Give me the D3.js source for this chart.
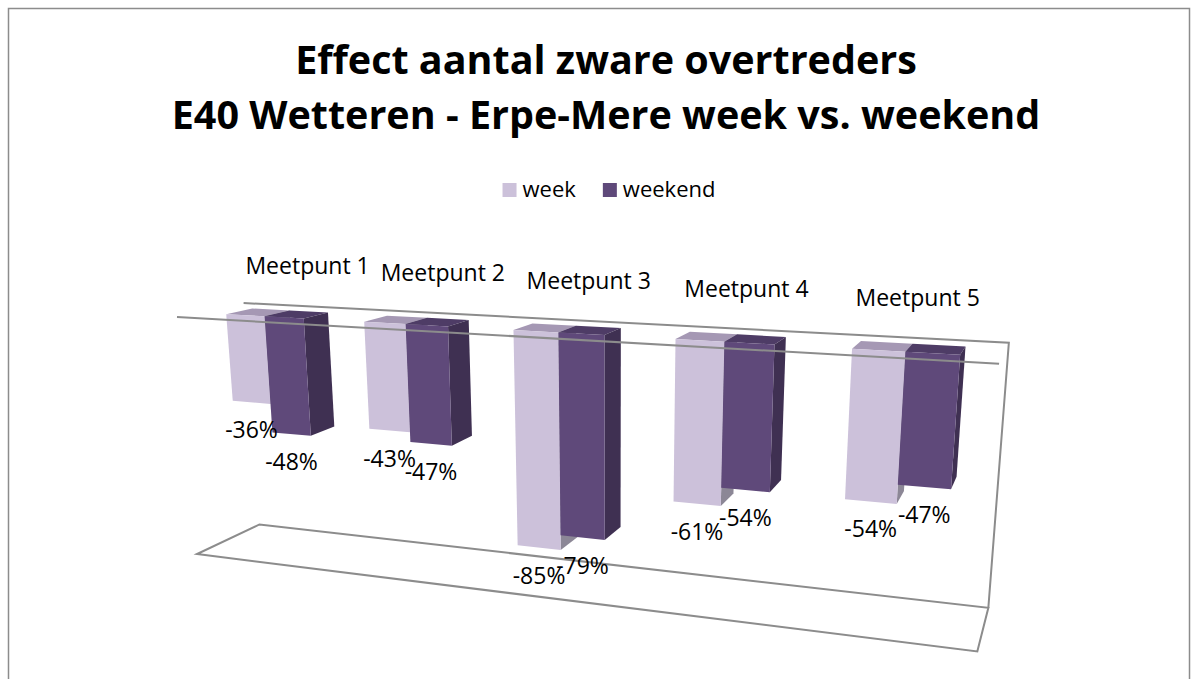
<!DOCTYPE html>
<html>
<head>
<meta charset="utf-8">
<script src="https://cdn.jsdelivr.net/npm/d3@7"></script>
<style>
  html, body { margin: 0; padding: 0; background: #fff; }
  svg { display: block; }
  text { font-family: "Open Sans", "Noto Sans", sans-serif; fill: #000; }
</style>
</head>
<body>
<svg id="chart" width="1197" height="679"></svg>
<script>
// ---- data ----
const categories = ["Meetpunt 1", "Meetpunt 2", "Meetpunt 3", "Meetpunt 4", "Meetpunt 5"];
const seriesNames = ["week", "weekend"];
const week    = [-0.36, -0.43, -0.85, -0.61, -0.54];
const weekend = [-0.48, -0.47, -0.79, -0.54, -0.47];
const valueDomain = [-1, 0];
const titleLines = ["Effect aantal zware overtreders", "E40 Wetteren - Erpe-Mere week vs. weekend"];

// ---- styling ----
const colors = {
  week:    { front: "#CCC1DA", side: "#8C8796", top: "#A598B4" },
  weekend: { front: "#5F497A", side: "#3F3052", top: "#4E3C66" }
};
const frameColor = "#8c8c8c";

const svg = d3.select("#chart");

// ---- 3D scene: categories along X, values along Y, depth along Z ----
const gapWidth = 1.5, gapDepth = 1.5;
const nCat = categories.length;
const x = d3.scaleBand()
  .domain(categories)
  .range([0, nCat])
  .paddingInner(gapWidth / (2 + gapWidth))
  .paddingOuter(gapWidth / (2 + gapWidth) / 2);
const xSeries = d3.scaleBand().domain(seriesNames).range([0, x.bandwidth()]);
const barW = xSeries.bandwidth();
const depth = barW * (1 + gapDepth);
const z0 = barW * gapDepth / 2, z1 = z0 + barW;
const y = d3.scaleLinear().domain(valueDomain).range([-1.5677, 0]);

// perspective camera
const camera = { yaw: 19.7, pitch: 15.1, focal: 1344, cx: 613, cy: 483, offset: [-2.7445, 1.0448, 8.46] };
const toRad = Math.PI / 180;
const cy_ = Math.cos(camera.yaw * toRad), sy_ = Math.sin(camera.yaw * toRad);
const cp_ = Math.cos(camera.pitch * toRad), sp_ = Math.sin(camera.pitch * toRad);
function project(X, Y, Z) {
  const x1 = X * cy_ + Z * sy_;
  const z1 = -X * sy_ + Z * cy_;
  const y2 = Y * cp_ + z1 * sp_;
  const z2 = -Y * sp_ + z1 * cp_;
  const xc = x1 + camera.offset[0], yc = y2 + camera.offset[1], zc = z2 + camera.offset[2];
  return [camera.cx + camera.focal * xc / zc, camera.cy - camera.focal * yc / zc];
}
const poly = pts => "M" + pts.map(p => project(...p).join(",")).join("L") + "Z";
const seg = pts => "M" + pts.map(p => project(...p).join(",")).join("L");

// ---- outer frame ----
svg.append("rect")
  .attr("x", 8.5).attr("y", 8.5).attr("width", 1181).attr("height", 720)
  .attr("fill", "none").attr("stroke", frameColor).attr("stroke-width", 1.5);

// ---- title ----
svg.append("text")
  .attr("x", 606).attr("text-anchor", "middle")
  .style("font-weight", "bold").style("font-size", "39.5px")
  .selectAll("tspan").data(titleLines).join("tspan")
  .attr("x", 606).attr("y", (d, i) => 74 + i * 55)
  .text(d => d);

// ---- legend ----
const legend = svg.append("g").style("font-size", "22px");
let lx = 0;
const items = [];
seriesNames.forEach(name => {
  const g = legend.append("g");
  g.append("rect").attr("x", 0).attr("y", -14).attr("width", 14).attr("height", 14)
    .attr("fill", colors[name].front);
  const t = g.append("text").attr("x", 20).attr("y", 0).text(name);
  items.push({ g, w: 20 + t.node().getComputedTextLength() });
});
items.forEach(it => { it.g.attr("transform", `translate(${lx},0)`); lx += it.w + 27; });
lx -= 27;
legend.attr("transform", `translate(${609 - lx / 2},197)`);

// ---- walls and floor ----
const yMin = y(valueDomain[0]), yTop = y(0);
const frame = svg.append("g").attr("fill", "none").attr("stroke", frameColor).attr("stroke-width", 2);
frame.append("path").attr("d", seg([[0, yTop, depth], [nCat, yTop, depth], [nCat, yMin, depth]]));
frame.append("path").attr("d", poly([[0, yMin, 0], [nCat, yMin, 0], [nCat, yMin, depth], [0, yMin, depth]]));

// ---- bars ----
const rows = [];
categories.forEach((c, i) => {
  rows.push({ cat: c, series: "week", value: week[i] });
  rows.push({ cat: c, series: "weekend", value: weekend[i] });
});
const bars = svg.append("g").selectAll("g").data(rows).join("g");
function barGeom(d) {
  const xa = x(d.cat) + xSeries(d.series), xb = xa + barW;
  const ya = y(0), yb = y(d.value);
  return { xa, xb, ya, yb };
}
bars.append("path") // top face
  .attr("d", d => { const g = barGeom(d); return poly([[g.xa, g.ya, z0], [g.xb, g.ya, z0], [g.xb, g.ya, z1], [g.xa, g.ya, z1]]); })
  .attr("fill", d => colors[d.series].top);
bars.append("path") // right side face
  .attr("d", d => { const g = barGeom(d); return poly([[g.xb, g.ya, z0], [g.xb, g.ya, z1], [g.xb, g.yb, z1], [g.xb, g.yb, z0]]); })
  .attr("fill", d => colors[d.series].side);
bars.append("path") // front face
  .attr("d", d => { const g = barGeom(d); return poly([[g.xa, g.ya, z0], [g.xb, g.ya, z0], [g.xb, g.yb, z0], [g.xa, g.yb, z0]]); })
  .attr("fill", d => colors[d.series].front);

// ---- category axis line at zero, front edge ----
svg.append("path").attr("d", seg([[0, yTop, 0], [nCat, yTop, 0]]))
  .attr("fill", "none").attr("stroke", frameColor).attr("stroke-width", 2);

// ---- category labels ----
svg.append("g").style("font-size", "23px").attr("text-anchor", "middle")
  .selectAll("text").data(categories).join("text")
  .attr("transform", d => { const p = project(x(d) + x.bandwidth() / 2, yTop, depth); return `translate(${p[0]},${p[1] - 32})`; })
  .text(d => d);

// ---- data labels ----
const fmt = d3.formatLocale({ decimal: ".", thousands: ",", grouping: [3], currency: ["", ""], minus: "-" }).format(".0%");
svg.append("g").style("font-size", "23px").attr("text-anchor", "middle")
  .selectAll("text").data(rows).join("text")
  .attr("transform", d => { const g = barGeom(d); const p = project((g.xa + g.xb) / 2, g.yb, z0); return `translate(${p[0]},${p[1] + 36})`; })
  .text(d => fmt(d.value));
</script>
</body>
</html>
